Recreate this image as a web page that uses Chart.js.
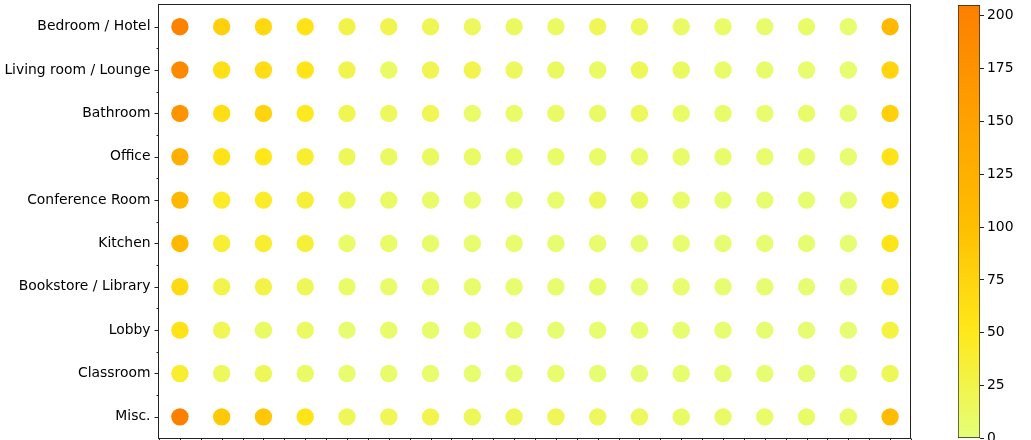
<!DOCTYPE html>
<html>
<head>
<meta charset="utf-8">
<script src="https://cdn.jsdelivr.net/npm/chart.js@4.4.1/dist/chart.umd.min.js"></script>
<style>
  body { margin: 0; background: #fff; width: 1031px; height: 440px; overflow: hidden; position: relative; }
  #mainChart { position: absolute; left: 0; top: 0; }
  #cbChart { position: absolute; left: 940px; top: 0; }
</style>
</head>
<body>
<canvas id="mainChart" width="940" height="440"></canvas>
<canvas id="cbChart" width="91" height="440"></canvas>
<script>
const rooms = ['Bedroom / Hotel', 'Living room / Lounge', 'Bathroom', 'Office', 'Conference Room',
  'Kitchen', 'Bookstore / Library', 'Lobby', 'Classroom', 'Misc.'];
const columns = [0, 1, 2, 3, 4, 5, 6, 7, 8, 9, 10, 11, 12, 13, 14, 15, 16, 17];

// counts per room, one value per column
const bedroomHotel = [200, 80, 70, 57, 26, 24, 19, 15, 14, 13, 20, 16, 11, 10, 8, 10, 7, 110];
const livingRoom   = [190, 62, 65, 55, 24, 12, 22, 24, 15, 14, 12, 18, 14, 9, 8, 7, 6, 75];
const bathroom     = [172, 63, 75, 48, 22, 16, 20, 9, 10, 12, 11, 16, 10, 8, 7, 9, 5, 80];
const office       = [128, 57, 52, 40, 18, 14, 14, 12, 10, 10, 10, 9, 9, 8, 7, 6, 6, 58];
const conference   = [112, 45, 43, 35, 16, 12, 9, 7, 6, 7, 16, 14, 9, 6, 6, 5, 4, 60];
const kitchen      = [108, 38, 40, 35, 10, 10, 8, 6, 7, 6, 7, 5, 6, 5, 5, 5, 4, 55];
const bookstore    = [68, 25, 28, 18, 10, 9, 9, 8, 6, 6, 8, 3, 6, 5, 5, 4, 4, 38];
const lobby        = [57, 20, 12, 13, 5, 8, 8, 7, 5, 5, 6, 6, 6, 6, 5, 5, 4, 30];
const classroom    = [40, 16, 18, 11, 7, 8, 7, 6, 5, 7, 5, 4, 6, 5, 5, 5, 5, 18];
const misc         = [205, 88, 90, 56, 18, 20, 24, 18, 17, 20, 15, 16, 11, 11, 10, 10, 8, 105];

const rows = [bedroomHotel, livingRoom, bathroom, office, conference, kitchen, bookstore, lobby, classroom, misc];

const cbMax = 205;
const cbTicks = [0, 25, 50, 75, 100, 125, 150, 175, 200];

// matplotlib "Wistia"
const wistia = [[228, 255, 122], [255, 232, 26], [255, 189, 0], [255, 160, 0], [252, 127, 0]];

function wistiaColor(v) {
  let t = Math.max(0, Math.min(1, v / cbMax)) * 4;
  let i = Math.min(3, Math.floor(t));
  let f = t - i;
  let a = wistia[i], b = wistia[i + 1];
  let c = a.map((x, k) => Math.round(x + (b[k] - x) * f));
  return `rgb(${c[0]},${c[1]},${c[2]})`;
}

const points = [];
rows.forEach((row, r) => {
  row.forEach((v, c) => points.push({ x: columns[c], y: r, v: v }));
});

const font = { family: 'DejaVu Sans', size: 13.9 };

// chart.js pads the area for first/last tick labels; matplotlib doesn't
function noPad(s) {
  s.paddingTop = 0; s.paddingBottom = 0; s.paddingLeft = 0; s.paddingRight = 0;
}

const framePlugin = {
  id: 'frame',
  afterDraw(chart) {
    const { ctx, chartArea: a, scales } = chart;
    ctx.save();
    ctx.strokeStyle = '#222';
    ctx.lineWidth = 1;
    const L = Math.round(a.left) - 0.5, R = Math.round(a.right) - 0.5;
    const T = Math.round(a.top) - 0.5, B = Math.round(a.bottom) - 0.5;
    ctx.strokeRect(L, T, R - L, B - T);
    ctx.beginPath();
    // y ticks: major on rows, minor between
    for (let i = 0; i < rooms.length; i++) {
      let y = Math.round(scales.y.getPixelForValue(i)) + 0.5;
      ctx.moveTo(L, y); ctx.lineTo(L - 4, y);
      if (i < rooms.length - 1) {
        let ym = Math.round(scales.y.getPixelForValue(i + 0.5)) + 0.5;
        ctx.moveTo(L, ym); ctx.lineTo(L - 2, ym);
      }
    }
    // x ticks
    for (let x = -0.5; x <= 17.5; x += 0.5) {
      let px = Math.round(scales.x.getPixelForValue(x)) + 0.5;
      ctx.moveTo(px, B); ctx.lineTo(px, B + 4);
    }
    ctx.stroke();
    ctx.restore();
  }
};

new Chart(document.getElementById('mainChart'), {
  type: 'scatter',
  data: {
    datasets: [{
      data: points,
      pointRadius: 8.7,
      pointBorderWidth: 0,
      pointBackgroundColor: c => wistiaColor(c.raw ? c.raw.v : 0)
    }]
  },
  options: {
    responsive: false,
    animation: false,
    layout: { autoPadding: false, padding: { left: 0, top: 5, right: 29, bottom: 1.5 } },
    plugins: { legend: { display: false }, tooltip: { enabled: false } },
    scales: {
      x: {
        type: 'linear', min: -0.5, max: 17.5,
        grid: { display: false, drawTicks: false }, border: { display: false },
        ticks: { display: false },
        afterFit: s => { s.height = 0; noPad(s); }
      },
      y: {
        type: 'linear', reverse: true, min: -0.5, max: 9.5,
        grid: { display: false, drawTicks: false }, border: { display: false },
        afterBuildTicks: s => { s.ticks = rooms.map((_, i) => ({ value: i })); },
        ticks: { callback: v => rooms[v], color: '#000', font: font, padding: 8.5, autoSkip: false },
        afterFit: s => { s.width = 159; noPad(s); }
      }
    }
  },
  plugins: [framePlugin]
});

new Chart(document.getElementById('cbChart'), {
  type: 'bar',
  data: {
    labels: [''],
    datasets: [{
      data: [cbMax],
      backgroundColor: c => {
        const area = c.chart.chartArea;
        if (!area) return null;
        const g = c.chart.ctx.createLinearGradient(0, area.bottom, 0, area.top);
        wistia.forEach((w, i) => g.addColorStop(i / 4, `rgb(${w[0]},${w[1]},${w[2]})`));
        return g;
      },
      borderColor: '#222',
      borderWidth: 1,
      borderSkipped: false,
      barPercentage: 1,
      categoryPercentage: 1
    }]
  },
  options: {
    responsive: false,
    animation: false,
    layout: { padding: { left: 18, top: 5, right: 0, bottom: 1.5 } },
    plugins: { legend: { display: false }, tooltip: { enabled: false } },
    scales: {
      x: { display: false },
      y: {
        position: 'right', min: 0, max: cbMax,
        afterBuildTicks: s => { s.ticks = cbTicks.map(v => ({ value: v })); },
        grid: { drawOnChartArea: false, tickLength: 4, color: '#222' },
        border: { display: false },
        ticks: { color: '#000', font: font, padding: 3 },
        afterFit: s => { s.width = 51; noPad(s); }
      }
    }
  }
});
</script>
</body>
</html>
